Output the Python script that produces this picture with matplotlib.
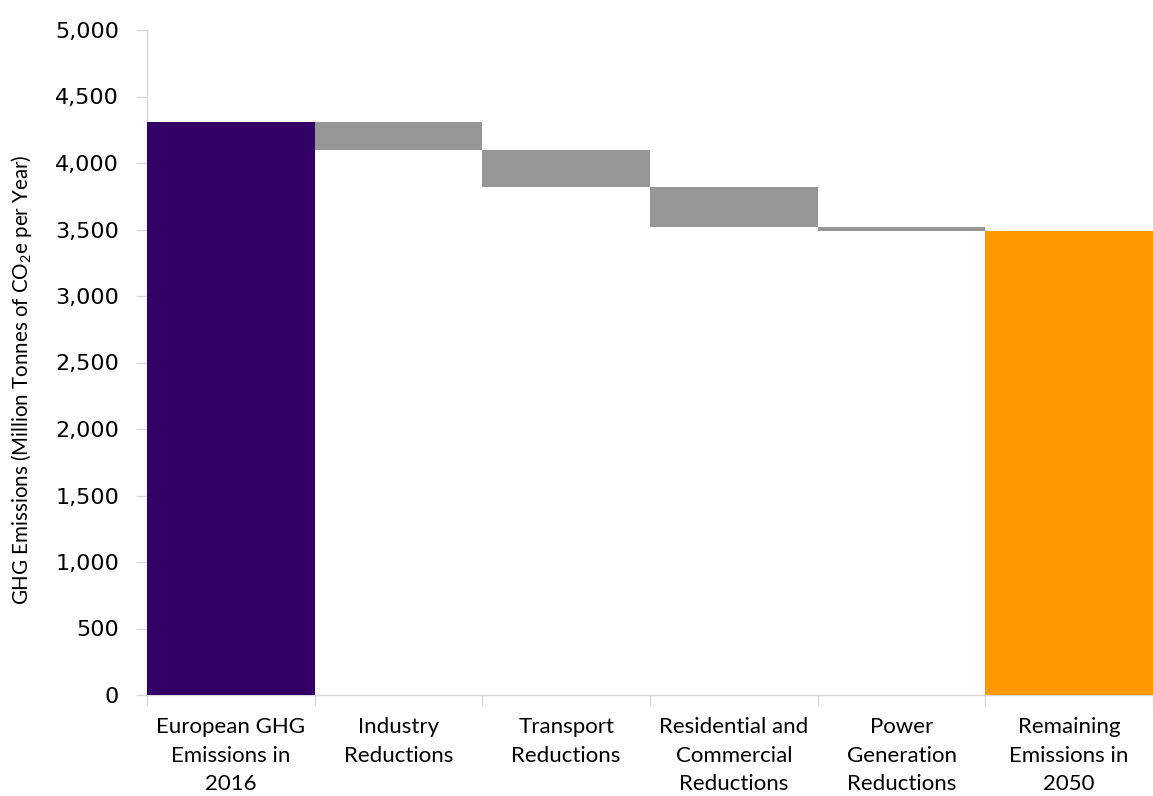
import matplotlib
matplotlib.use("Agg")
import matplotlib.pyplot as plt
from matplotlib import font_manager
import numpy as np

categories = ["European GHG\nEmissions in\n2016", "Industry\nReductions", "Transport\nReductions",
              "Residential and\nCommercial\nReductions", "Power\nGeneration\nReductions",
              "Remaining\nEmissions in\n2050"]
start_value = 4305
reductions = [210, 275, 300, 30]
end_value = 3490
yticks = list(range(0, 5001, 500))

names = {f.name for f in font_manager.fontManager.ttflist}
label_font = "Lato" if "Lato" in names else "DejaVu Sans"

plt.rcParams['mathtext.default'] = 'regular'

fig = plt.figure(figsize=(11.53, 7.96), dpi=100)
ax = fig.add_axes([147/1153, 101/796, 1 - 147/1153, (695-30)/796])

# waterfall geometry from data
levels = [start_value]
for r in reductions:
    levels.append(levels[-1] - r)
x = np.arange(len(categories))
ax.bar(x[0], start_value, width=1.0, color="#330066", zorder=2)
for i, r in enumerate(reductions):
    ax.bar(x[i+1], r, bottom=levels[i+1], width=1.0, color="#969696", zorder=2)
ax.bar(x[-1], end_value, width=1.0, color="#FF9900", zorder=2)

ax.set_xlim(-0.5, len(categories) - 0.5)
ax.set_ylim(0, 5000)
ax.set_yticks(yticks)
ax.set_yticklabels([f"{v:,}" for v in yticks], fontsize=16, color="#000000", family="DejaVu Sans")
ax.set_xticks(x)
ax.set_xticklabels(categories, fontsize=16, family=label_font, linespacing=1.52)
ax.set_xticks(np.arange(-0.5, len(categories)), minor=True)
ax.tick_params(axis='x', which='major', length=0, pad=16)
ax.tick_params(axis='x', which='minor', length=8, color="#d9d9d9", width=1)
ax.tick_params(axis='y', length=8, color="#d9d9d9", width=1, pad=12)

for s in ["top", "right"]:
    ax.spines[s].set_visible(False)
for s in ["left", "bottom"]:
    ax.spines[s].set_color("#d9d9d9")
    ax.spines[s].set_linewidth(1)
    ax.spines[s].set_zorder(1)

ax.set_ylabel("GHG Emissions (Million Tonnes of CO$_2$e per Year)", fontsize=14.8, family=label_font)
ax.yaxis.set_label_coords((34 - 147) / 1006, (695 - 380) / 665)

fig.savefig("out.png", dpi=100)
